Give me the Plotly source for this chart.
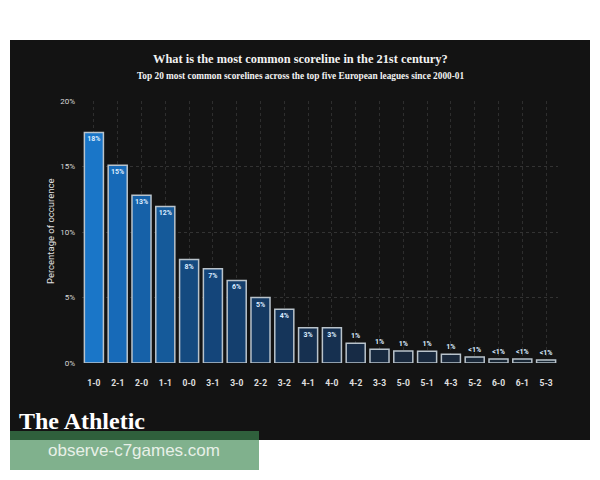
import plotly.graph_objects as go

scorelines = ["1-0", "2-1", "2-0", "1-1", "0-0", "3-1", "3-0", "2-2", "3-2", "4-1",
              "4-0", "4-2", "3-3", "5-0", "5-1", "4-3", "5-2", "6-0", "6-1", "5-3"]
pct = [17.6, 15.1, 12.8, 11.95, 7.9, 7.2, 6.3, 5.0, 4.1, 2.7,
       2.7, 1.5, 1.05, 0.92, 0.9, 0.66, 0.46, 0.3, 0.3, 0.23]
labels = ["18%", "15%", "13%", "12%", "8%", "7%", "6%", "5%", "4%", "3%",
          "3%", "1%", "1%", "1%", "1%", "1%", "<1%", "<1%", "<1%", "<1%"]
bar_colors = ["#1a76c8", "#176ab8", "#1661a8", "#155a9a", "#144a80", "#14457a",
              "#143f6e", "#153a63", "#15355a", "#163050", "#163050", "#172b45",
              "#182a40", "#19293d", "#19293d", "#1a283a", "#1a2838", "#1a2836",
              "#1a2836", "#1a2835"]
positions = ["inside" if v >= 2 else "outside" for v in pct]

L, R, T, B = 82, 42, 101, 117
W, H = 600, 480
PW, PH = W - L - R, H - T - B


def px(x):
    return (x - L) / PW


def py(y):
    return (H - B - y) / PH


fig = go.Figure()
fig.add_trace(go.Bar(
    x=scorelines, y=pct, text=labels, textposition=positions, textangle=0,
    insidetextanchor="end", constraintext="none", cliponaxis=False,
    textfont=dict(family="Roboto", size=7, color="#dcecff", weight="bold"),
    marker=dict(color=bar_colors, line=dict(color="#b9c3cb", width=1.5)),
    width=0.8, hoverinfo="skip",
))

shapes = [
    dict(type="rect", xref="paper", yref="paper", x0=px(10), x1=px(590),
         y0=py(440), y1=py(40), fillcolor="#131313", line=dict(width=0), layer="below"),
    dict(type="rect", xref="paper", yref="paper", x0=px(10), x1=px(259),
         y0=py(470), y1=py(431), fillcolor="rgba(62,136,82,0.66)", line=dict(width=0),
         layer="above"),
]

annotations = [
    dict(text="What is the most common scoreline in the 21st century?", xref="paper",
         yref="paper", x=px(300), y=py(59.5), showarrow=False, xanchor="center",
         yanchor="middle",
         font=dict(family="Liberation Serif", size=12.4, color="#f2f2f2", weight="bold")),
    dict(text="Top 20 most common scorelines across the top five European leagues since 2000-01",
         xref="paper", yref="paper", x=px(300), y=py(76), showarrow=False,
         xanchor="center", yanchor="middle",
         font=dict(family="Liberation Serif", size=9.3, color="#f2f2f2", weight="bold")),
    dict(text="Percentage of occurence", xref="paper", yref="paper", x=px(50), y=py(232),
         showarrow=False, textangle=-90, xanchor="center", yanchor="middle",
         font=dict(family="Roboto", size=9.5, color="#e0e0e0")),
    dict(text="The Athletic", xref="paper", yref="paper", x=px(17), y=py(421),
         showarrow=False, xanchor="left", yanchor="middle",
         font=dict(family="Liberation Serif", size=24, color="#ffffff", weight="bold")),
    dict(text="observe-c7games.com", xref="paper", yref="paper", x=px(134), y=py(450.5),
         showarrow=False, xanchor="center", yanchor="middle",
         font=dict(family="Liberation Sans", size=17, color="#e8f0e8")),
]

fig.update_layout(
    width=W, height=H, margin=dict(l=L, r=R, t=T, b=B, pad=0),
    paper_bgcolor="#ffffff", plot_bgcolor="rgba(0,0,0,0)",
    shapes=shapes, annotations=annotations, showlegend=False, bargap=0.18,
    xaxis=dict(showgrid=True, gridcolor="#2e2e2e", griddash="3px,3px", gridwidth=1,
               showline=False, zeroline=False, ticks="", ticklabelstandoff=13,
               tickfont=dict(family="Roboto", size=8.5, color="#e0e0e0", weight="bold")),
    yaxis=dict(range=[0, 20], dtick=5, ticksuffix="%", showgrid=True,
               gridcolor="#333333", griddash="3px,3px", gridwidth=1, zeroline=False,
               showline=False, ticks="", ticklabelstandoff=6,
               tickfont=dict(family="Roboto", size=8, color="#d8d8d8")),
)

fig.write_html("out.html")
